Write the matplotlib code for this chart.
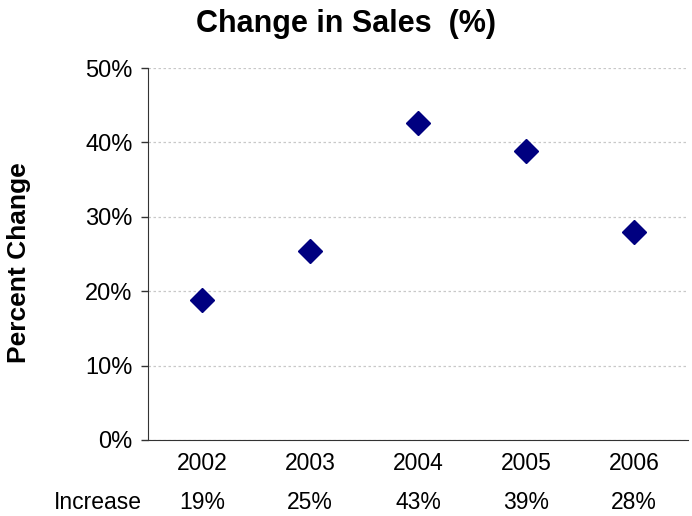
import matplotlib
matplotlib.use("Agg")
import matplotlib.pyplot as plt
from matplotlib.ticker import FuncFormatter, MultipleLocator

years = ["2002", "2003", "2004", "2005", "2006"]
change_pct = [18.8, 25.4, 42.6, 38.8, 28.0]
row_label = "Increase"

plt.rcParams["font.family"] = ["Liberation Sans", "DejaVu Sans"]

fig = plt.figure(figsize=(6.92, 5.16), dpi=100)
ax = fig.add_axes([0.2139, 0.1473, 0.7803, 0.7209])

x = list(range(1, len(years) + 1))
ax.plot(x, change_pct, linestyle="none", marker="D", markersize=12.5,
        color="#000080", markeredgecolor="#000080", zorder=3)

ax.set_xlim(0.5, len(years) + 0.5)
ax.set_ylim(0, 50)
ax.yaxis.set_major_locator(MultipleLocator(10))
ax.yaxis.set_major_formatter(FuncFormatter(lambda v, p: f"{v:.0f}%"))
ax.set_xticks(x)
ax.set_xticklabels(years)

ax.grid(axis="y", linestyle=(0, (2, 2)), color="#c8c8c8", linewidth=0.9)
ax.set_axisbelow(True)
for side in ("top", "right"):
    ax.spines[side].set_visible(False)
ax.spines["left"].set_color("#333333")
ax.spines["bottom"].set_color("#333333")
ax.tick_params(axis="y", direction="out", length=5, width=1, color="#333333",
               labelsize=17, pad=6)
ax.tick_params(axis="x", length=0, labelsize=16.5, pad=9)

ax.set_ylabel("Percent Change", fontsize=19, fontweight="bold")
ax.yaxis.set_label_coords(-0.217, 0.476)
fig.suptitle("Change in Sales  (%)", fontsize=22, fontweight="bold", y=0.982)

# value row beneath the category labels
for xi, v in zip(x, change_pct):
    ax.text(xi, -0.169, f"{round(v):.0f}%", transform=ax.get_xaxis_transform(),
            ha="center", va="center", fontsize=16.5)
ax.text(-0.093, -0.169, row_label, transform=ax.transAxes,
        ha="center", va="center", fontsize=16.5)

fig.savefig("out.png", dpi=100)
